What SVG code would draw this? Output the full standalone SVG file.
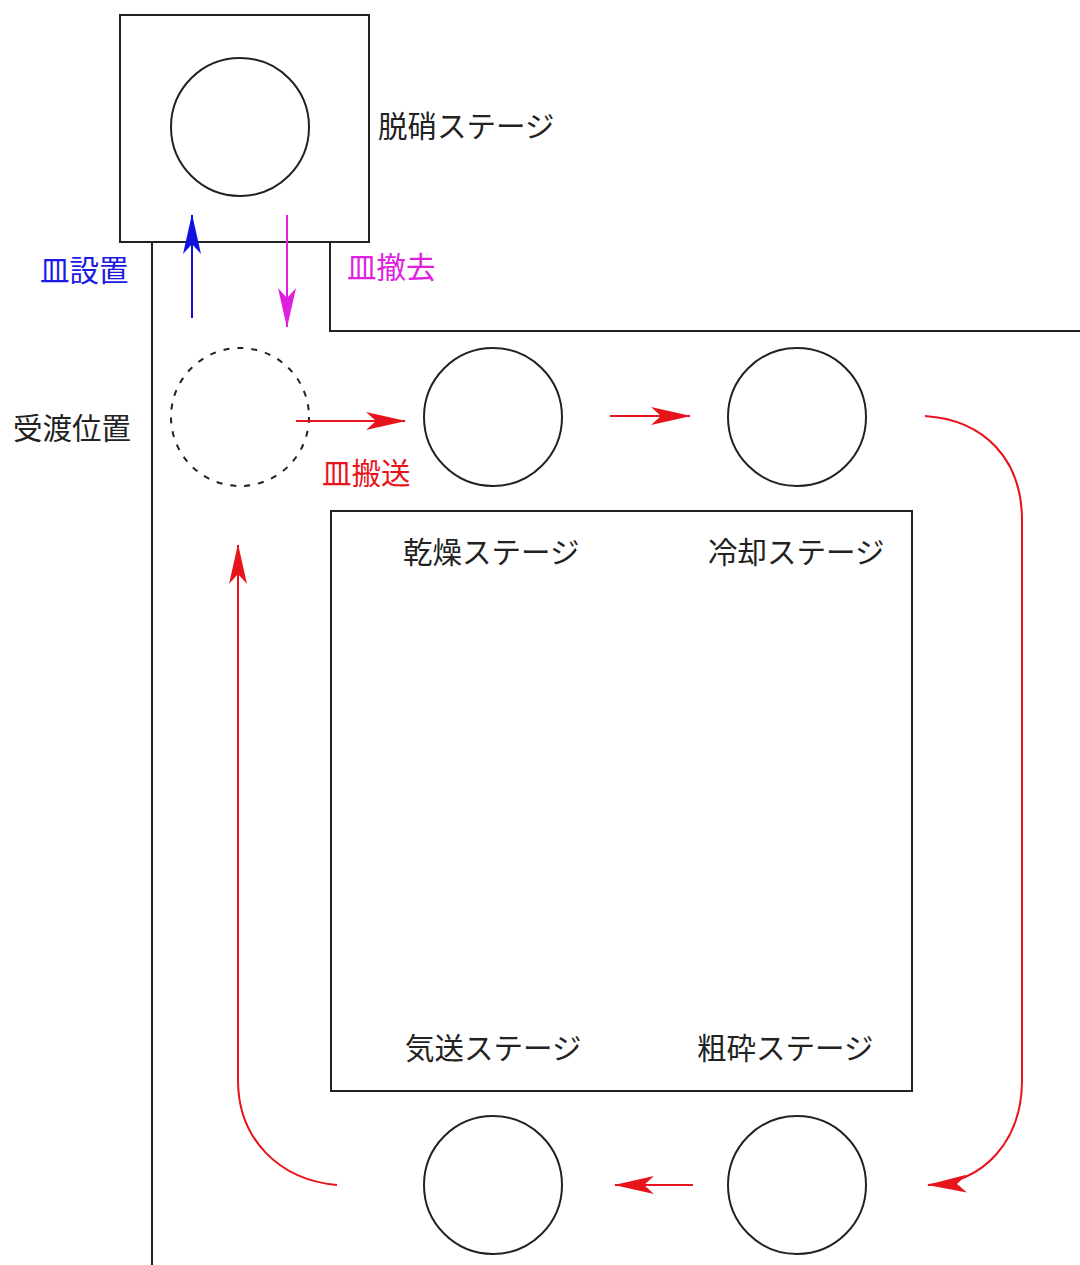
<svg xmlns="http://www.w3.org/2000/svg" width="1080" height="1265" viewBox="0 0 1080 1265">
<style>
.ln{fill:none;stroke:#222;stroke-width:2}
.st{fill:#fff;stroke:#222;stroke-width:2}
.t{font-family:"Noto Sans CJK JP","Liberation Sans",sans-serif;font-size:29.5px;fill:#222}
.red{fill:none;stroke:#e8141c;stroke-width:2}
</style>
<defs>
<marker id="ar" viewBox="0 0 40 18" refX="39" refY="9" markerWidth="40" markerHeight="18" markerUnits="userSpaceOnUse" orient="auto">
<path d="M0,0 L40,9 L0,18 L10,9 Z" fill="#e8141c"/>
</marker>
<marker id="ab" viewBox="0 0 40 18" refX="39" refY="9" markerWidth="40" markerHeight="18" markerUnits="userSpaceOnUse" orient="auto">
<path d="M0,0 L40,9 L0,18 L10,9 Z" fill="#1010e0"/>
</marker>
<marker id="am" viewBox="0 0 40 18" refX="39" refY="9" markerWidth="40" markerHeight="18" markerUnits="userSpaceOnUse" orient="auto">
<path d="M0,0 L40,9 L0,18 L10,9 Z" fill="#e020e0"/>
</marker>
</defs>
<rect width="1080" height="1265" fill="#fff"/>
<g id="walls">
<path class="ln" d="M152,242 V1265"/>
<path class="ln" d="M330,242 V331 H1080"/>
</g>
<g id="denitration">
<rect class="st" x="120" y="15" width="249" height="227"/>
<circle class="st" cx="240" cy="127" r="69"/>
<text class="t" x="378" y="137">脱硝ステージ</text>
</g>
<g id="handover">
<circle cx="240" cy="417" r="69" fill="none" stroke="#222" stroke-width="2" stroke-dasharray="6,8"/>
<text class="t" x="13" y="439">受渡位置</text>
</g>
<g id="drying"><circle class="st" cx="493" cy="417" r="69"/></g>
<g id="cooling"><circle class="st" cx="797" cy="417" r="69"/></g>
<g id="pneumatic"><circle class="st" cx="493" cy="1185" r="69"/></g>
<g id="crushing"><circle class="st" cx="797" cy="1185" r="69"/></g>
<g id="stages">
<rect class="st" x="331" y="511" width="581" height="580"/>
<text class="t" x="403" y="563">乾燥ステージ</text>
<text class="t" x="708" y="563">冷却ステージ</text>
<text class="t" x="405" y="1059">気送ステージ</text>
<text class="t" x="697" y="1059">粗砕ステージ</text>
</g>
<g id="connectors">
<path d="M192,318 V215" stroke="#1010e0" stroke-width="2" fill="none" marker-end="url(#ab)"/>
<path d="M287,215 V327" stroke="#e020e0" stroke-width="2" fill="none" marker-end="url(#am)"/>
<path class="red" d="M296,421 H405" marker-end="url(#ar)"/>
<path class="red" d="M610,416 H690" marker-end="url(#ar)"/>
<path class="red" d="M925,416 C985,420 1022,460 1022,520 V1080 C1022,1140 985,1183 928,1185" marker-end="url(#ar)"/>
<path class="red" d="M693,1185 H615" marker-end="url(#ar)"/>
<path class="red" d="M337,1185 C280,1180 238,1140 238,1080 V545" marker-end="url(#ar)"/>
<text class="t" x="40" y="281" style="fill:#1a1ae0">皿設置</text>
<text class="t" x="347" y="278" style="fill:#e020e0">皿撤去</text>
<text class="t" x="322" y="484" style="fill:#e8141c">皿搬送</text>
</g>
</svg>
